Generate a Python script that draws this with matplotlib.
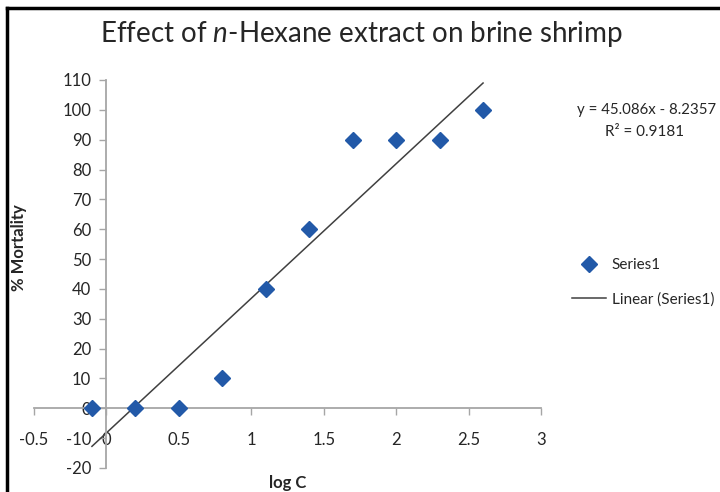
import matplotlib
matplotlib.use("Agg")
import matplotlib.pyplot as plt
from matplotlib.lines import Line2D
import numpy as np

plt.rcParams['font.family'] = ['Lato', 'DejaVu Sans']
plt.rcParams['mathtext.fontset'] = 'custom'
plt.rcParams['mathtext.rm'] = 'Lato'
plt.rcParams['mathtext.it'] = 'Lato:italic'
plt.rcParams['axes.unicode_minus'] = False

# Data
log_c = [-0.1, 0.2, 0.5, 0.8, 1.1, 1.4, 1.7, 2.0, 2.3, 2.6]
mortality = [0, 0, 0, 10, 40, 60, 90, 90, 90, 100]
slope = 45.086
intercept = -8.2357
r_squared = 0.9181
x_ticks = [-0.5, 0, 0.5, 1, 1.5, 2, 2.5, 3]
x_tick_labels = ['-0.5', '0', '0.5', '1', '1.5', '2', '2.5', '3']
y_ticks = list(range(-20, 111, 10))

marker_color = '#2259A8'
axis_color = '#A6A6A6'
text_color = '#262626'

fig = plt.figure(figsize=(7.2, 4.92), dpi=100)
ax = fig.add_axes([34/720, 1-468/492, 507/720, 388/492])
ax.set_xlim(-0.5, 3)
ax.set_ylim(-20, 110)

ax.plot(log_c, mortality, linestyle='none', marker='D', markersize=8,
        color=marker_color, label='Series1', zorder=3, clip_on=False)
xl = np.array([min(log_c), max(log_c)])
ax.plot(xl, slope*xl + intercept, color='#404040', linewidth=1.1,
        label='Linear (Series1)', zorder=2, clip_on=False)

for s in ['top', 'right']:
    ax.spines[s].set_visible(False)
ax.spines['left'].set_position(('data', 0))
ax.spines['bottom'].set_position(('data', 0))
for s in ['left', 'bottom']:
    ax.spines[s].set_color(axis_color)
    ax.spines[s].set_linewidth(1.3)

ax.set_xticks(x_ticks)
ax.set_xticklabels(x_tick_labels)
ax.set_yticks(y_ticks)
ax.tick_params(axis='x', direction='out', length=5, width=1, color=axis_color,
               labelsize=12, labelcolor=text_color, pad=12)
ax.tick_params(axis='y', direction='out', length=5, width=1, color=axis_color,
               labelsize=12, labelcolor=text_color, pad=6)
ax.patch.set_visible(False)

fig.text(0.502, 1-34/492, r'Effect of $\mathit{n}$-Hexane extract on brine shrimp',
         ha='center', va='center', fontsize=20, color=text_color)
fig.text(19/720, 1-248/492, '% Mortality', rotation=90, ha='center', va='center',
         fontsize=12, fontweight='bold', color=text_color)
fig.text(288/720, 1-483/492, 'log C', ha='center', va='center',
         fontsize=12, fontweight='bold', color=text_color)

fig.text(716/720, 1-110/492, f'y = {slope}x - {abs(intercept)}', ha='right', va='center',
         fontsize=10.8, color=text_color)
fig.text(645/720, 1-132/492, f'R² = {r_squared}', ha='center', va='center',
         fontsize=11, color=text_color)

leg = fig.legend(loc='upper left', bbox_to_anchor=(566/720, 1-252/492),
                 frameon=False, fontsize=11, handlelength=2.2, labelspacing=1.3,
                 handletextpad=0.4, borderaxespad=0)
for t in leg.get_texts():
    t.set_color(text_color)

fig.add_artist(Line2D([7/720, 1], [1-8/492, 1-8/492], color='black', linewidth=2.5,
                      transform=fig.transFigure))
fig.add_artist(Line2D([7/720, 7/720], [0, 1-8/492], color='black', linewidth=2.5,
                      transform=fig.transFigure))

fig.savefig('out.png', dpi=100, facecolor='white')
